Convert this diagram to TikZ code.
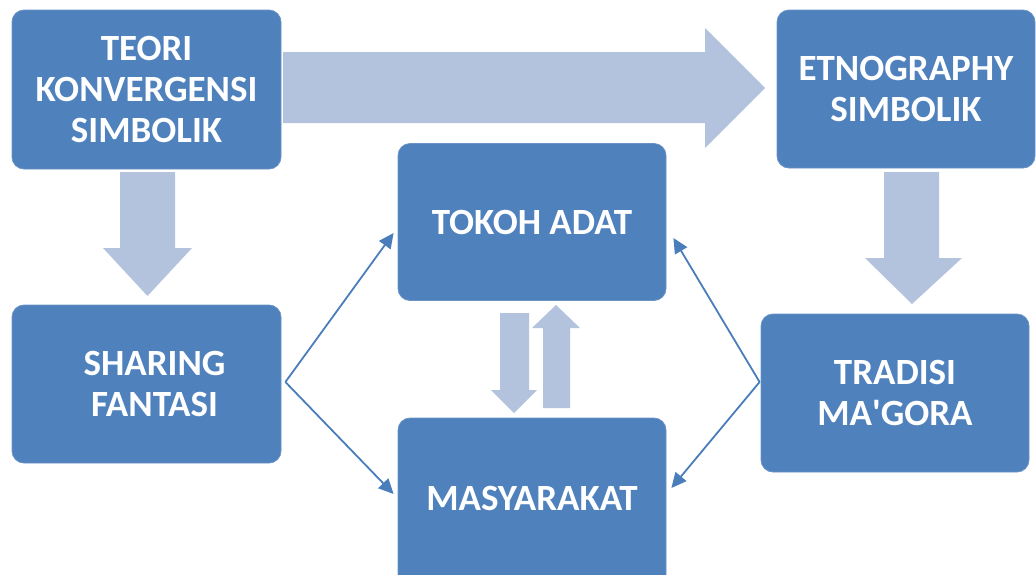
\documentclass[tikz,border=0pt]{standalone}
\usepackage{fontspec}
\setmainfont{Carlito}
\usetikzlibrary{arrows.meta,calc}
\definecolor{boxblue}{HTML}{4F81BD}
\definecolor{boxedge}{HTML}{6A93C6}
\definecolor{arrlight}{HTML}{B3C3DE}
\definecolor{thinblue}{HTML}{4A7EBB}
\begin{document}
\begin{tikzpicture}[x=1pt,y=-1pt,
 box/.style={fill=boxblue, draw=boxedge, line width=0.8pt, rounded corners=12pt, text=white,
   font=\fontsize{37}{41}\selectfont\bfseries, align=center, inner sep=0pt},
 blockarrow/.style={fill=arrlight, draw=none},
 thinarrow/.style={draw=thinblue, line width=1.8pt, -{Triangle[length=15pt,width=14pt]}}]
\useasboundingbox (0,0) rectangle (1036,574);
% block arrows
\fill[blockarrow] (283,52) -- (705,52) -- (705,28) -- (765,88) -- (705,148) -- (705,123) -- (283,123) -- cycle;
\fill[blockarrow] (120,172) -- (175,172) -- (175,248) -- (192,248) -- (147.5,296) -- (103,248) -- (120,248) -- cycle;
\fill[blockarrow] (884,172) -- (939,172) -- (939,258) -- (962,258) -- (912,304) -- (865,258) -- (884,258) -- cycle;
\fill[blockarrow] (500,313) -- (529,313) -- (529,390) -- (537,390) -- (514,413) -- (491,390) -- (500,390) -- cycle;
\fill[blockarrow] (543,408) -- (570,408) -- (570,328) -- (580,328) -- (556,305) -- (532,328) -- (543,328) -- cycle;
% boxes
\node[box, minimum width=269pt, minimum height=159pt] (teori) at (146.5,89.5) {TEORI\\KONVERGENSI\\SIMBOLIK};
\node[box, minimum width=258pt, minimum height=158pt] (etno) at (906,89) {ETNOGRAPHY\\SIMBOLIK};
\node[box, minimum width=269pt, minimum height=158pt] (sharing) at (146.5,384) {\hspace*{16pt}SHARING\\\hspace*{16pt}FANTASI};
\node[box, minimum width=268pt, minimum height=157pt] (tokoh) at (532,222) {TOKOH ADAT};
\node[box, minimum width=268pt, minimum height=176pt] (masy) at (532,506) {\raisebox{16pt}{MASYARAKAT}};
\node[box, minimum width=268pt, minimum height=158pt] (tradisi) at (895,393) {TRADISI\\MA\textquotesingle GORA};
% thin connectors
\coordinate (cs) at ($(sharing.east)+(4,-2)$);
\coordinate (ct) at ($(tradisi.west)+(-1,-11)$);
\draw[thinarrow] (cs) -- ($(tokoh.west)+(-4,11)$);
\draw[thinarrow] (cs) -- ($(masy.west)+(-4,-12)$);
\draw[thinarrow] (ct) -- ($(tokoh.east)+(7,16)$);
\draw[thinarrow] (ct) -- ($(masy.east)+(5,-18)$);
\end{tikzpicture}
\end{document}
